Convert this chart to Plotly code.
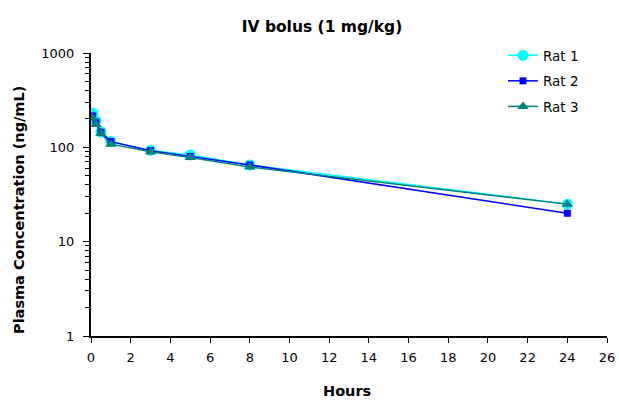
import plotly.graph_objects as go

hours = [0.083, 0.25, 0.5, 1, 3, 5, 8, 24]
rat1 = [230, 190, 145, 115, 93, 83, 65, 25]
rat2 = [215, 185, 145, 115, 92, 80, 65, 20]
rat3 = [205, 175, 140, 108, 90, 78, 62, 25]
x_ticks = list(range(0, 27, 2))
y_ticks = [1, 10, 100, 1000]
y_minor_ticks = [m * d for d in (1, 10, 100) for m in range(2, 10)]

fig = go.Figure()
fig.add_trace(go.Scatter(x=hours, y=rat1, name="Rat 1", mode="lines+markers", legendgroup="a",
                         line=dict(color="#00FFFF", width=1.5),
                         marker=dict(symbol="circle", size=11, color="#00FFFF")))
fig.add_trace(go.Scatter(x=hours, y=rat2, name="Rat 2", mode="lines+markers", legendgroup="b",
                         line=dict(color="#0000FF", width=1.5),
                         marker=dict(symbol="square", size=7, color="#0000FF")))
fig.add_trace(go.Scatter(x=hours, y=rat3, name="Rat 3", mode="lines+markers", legendgroup="c",
                         line=dict(color="#008080", width=1.5),
                         marker=dict(symbol="triangle-up", size=10, color="#008080")))

font_family = "DejaVu Sans, Verdana, sans-serif"
W, H = 619, 400
PL, PT, PR, PB = 91, 53, 607, 336  # plot area in page pixels
L, T, R, B = PL, PT, W - PR, H - PB
pw, ph = PR - PL, PB - PT
fig.update_layout(
    width=W, height=H,
    paper_bgcolor="white", plot_bgcolor="white",
    margin=dict(l=L, r=R, t=T, b=B, autoexpand=False),
    title=dict(text="<b>IV bolus (1 mg/kg)</b>", x=322 / W, xanchor="center",
               y=1 - 27 / H, yanchor="middle", xref="container", yref="container",
               font=dict(family=font_family, size=15.5, color="black")),
    font=dict(family=font_family, size=13, color="black"),
    legend=dict(x=(503 - PL) / pw, y=1 + 13 / ph, xanchor="left", yanchor="top",
                bgcolor="rgba(0,0,0,0)", font=dict(size=13.5), tracegroupgap=5),
    showlegend=True,
)
fig.add_annotation(text="<b>Hours</b>", xref="paper", yref="paper",
                   x=(347 - PL) / pw, y=-(391 - PB) / ph, xanchor="center", yanchor="middle",
                   showarrow=False, font=dict(family=font_family, size=14.5, color="black"))
fig.add_annotation(text="<b>Plasma Concentration (ng/mL)</b>", xref="paper", yref="paper",
                   x=(19 - PL) / pw, y=(PB - 210) / ph, xanchor="center", yanchor="middle",
                   textangle=-90, showarrow=False,
                   font=dict(family=font_family, size=14.5, color="black"))
fig.update_xaxes(
    range=[0, 26], tickvals=x_ticks, ticktext=[str(v) for v in x_ticks],
    showline=True, linecolor="black", linewidth=2, showgrid=False, zeroline=False,
    ticks="outside", ticklen=5, tickcolor="black", tickwidth=1, ticklabelstandoff=3,
    automargin=False,
)
fig.update_yaxes(
    type="log", range=[0, 3], tickvals=y_ticks, ticktext=[str(v) for v in y_ticks],
    showline=True, linecolor="black", linewidth=2, showgrid=False, zeroline=False,
    ticks="outside", ticklen=6, tickcolor="black", tickwidth=1, ticklabelstandoff=6,
    minor=dict(tickvals=y_minor_ticks, ticks="outside", ticklen=4, tickcolor="black",
               tickwidth=1, showgrid=False),
    automargin=False,
)
fig.write_html(
    "out.html",
    config={"displayModeBar": False},
    post_script="document.body.style.margin='0';document.body.style.overflow='hidden';",
)
